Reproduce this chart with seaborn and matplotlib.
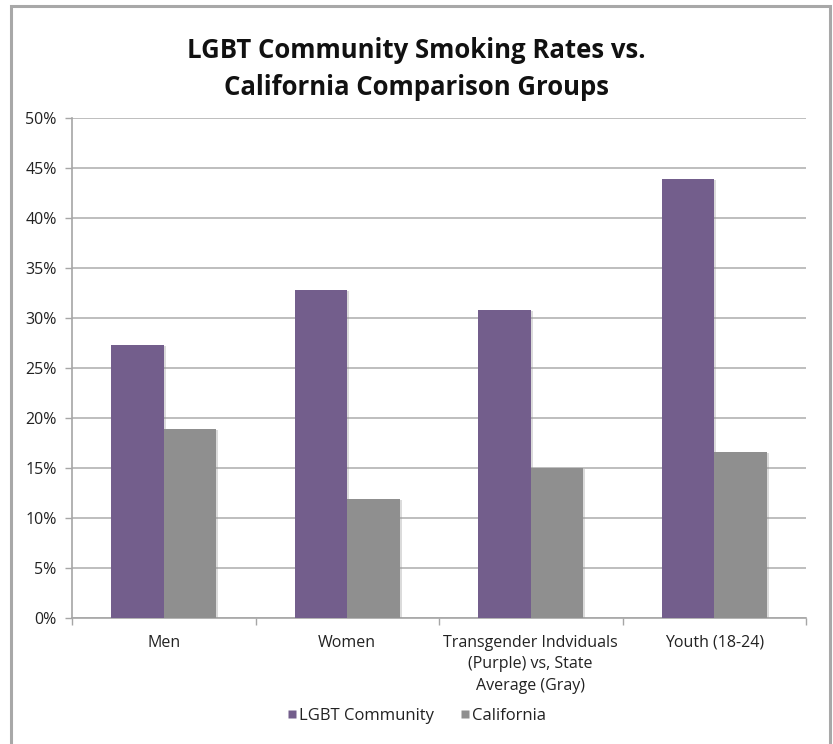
import matplotlib
matplotlib.use("Agg")
import matplotlib.pyplot as plt
import matplotlib.patheffects as pe
from matplotlib.lines import Line2D
from matplotlib.patches import Rectangle
from matplotlib.ticker import FuncFormatter, FixedLocator
import seaborn as sns
import pandas as pd

# Smoking rates (%) by group
categories = ["Men", "Women",
              "Transgender Indviduals\n(Purple) vs, State\nAverage (Gray)",
              "Youth (18-24)"]
lgbt_rates = [27.3, 32.8, 30.8, 43.9]
california_rates = [18.9, 11.9, 15.0, 16.6]
series_names = ["LGBT Community", "California"]
colors = ["#735E8C", "#8F8F8F"]
y_ticks = [0, 5, 10, 15, 20, 25, 30, 35, 40, 45, 50]

df = pd.DataFrame({
    "category": categories * 2,
    "rate": lgbt_rates + california_rates,
    "series": [series_names[0]] * len(categories) + [series_names[1]] * len(categories),
})

sns.set_style("white")
plt.rcParams["font.family"] = ["Open Sans", "DejaVu Sans"]

fig = plt.figure(figsize=(8.33, 7.44), dpi=100)
ax = fig.add_axes([72 / 833, 1 - 617.5 / 744, 734 / 833, 500 / 744])

sns.barplot(data=df, x="category", y="rate", hue="series", order=categories,
            hue_order=series_names, palette=colors, saturation=1,
            width=2 / 3.5, dodge=True, legend=False, ax=ax, zorder=3)

for bar in ax.patches:
    bar.set_edgecolor("none")
    bar.set_path_effects([pe.SimplePatchShadow(offset=(1.5, -1), shadow_rgbFace="#999999", alpha=0.35),
                          pe.Normal()])

ax.set_xlim(-0.5, len(categories) - 0.5)
ax.set_ylim(0, 50)
ax.set_yticks(y_ticks)
ax.yaxis.set_major_formatter(FuncFormatter(lambda v, p: f"{v:.0f}%"))
ax.yaxis.grid(True, color="#BEBEBE", linewidth=1.4, zorder=0)
ax.set_axisbelow(True)

ax.set_xlabel("")
ax.set_ylabel("")

for side in ["top", "right"]:
    ax.spines[side].set_visible(False)
for side in ["left", "bottom"]:
    ax.spines[side].set_color("#A6A6A6")
    ax.spines[side].set_linewidth(1.2)

ax.tick_params(axis="y", which="major", left=True, length=5, width=1, color="#A6A6A6",
               pad=6, labelsize=11.5, labelcolor="#222222")
ax.tick_params(axis="x", which="major", length=0, pad=12.5, labelsize=11.5, labelcolor="#222222")
ax.xaxis.set_minor_locator(FixedLocator([i - 0.5 for i in range(len(categories) + 1)]))
ax.tick_params(axis="x", which="minor", bottom=True, length=5, width=1, color="#A6A6A6")
for lbl in ax.get_xticklabels():
    lbl.set_linespacing(1.45)
    lbl.set_verticalalignment("top")

fig.text(0.5, 1 - 69 / 744, "LGBT Community Smoking Rates vs.\nCalifornia Comparison Groups",
         ha="center", va="center", fontsize=18.5, fontweight="bold", color="#111111",
         linespacing=1.45)

handles = [Line2D([], [], linestyle="none", marker="s", markersize=6,
                  markerfacecolor=c, markeredgecolor="none") for c in colors]
fig.legend(handles, series_names, loc="center", bbox_to_anchor=(0.5, 1 - 716 / 744),
           ncol=2, frameon=False, fontsize=12, handlelength=0.6, handletextpad=0.1,
           columnspacing=1.6, labelcolor="#222222")

fig.patches.append(Rectangle((11 / 833, -0.05), 819 / 833, 1.05 - 6 / 744,
                             transform=fig.transFigure, fill=False,
                             edgecolor="#A8A8A8", linewidth=2.2))

fig.savefig("out.png", dpi=100)
